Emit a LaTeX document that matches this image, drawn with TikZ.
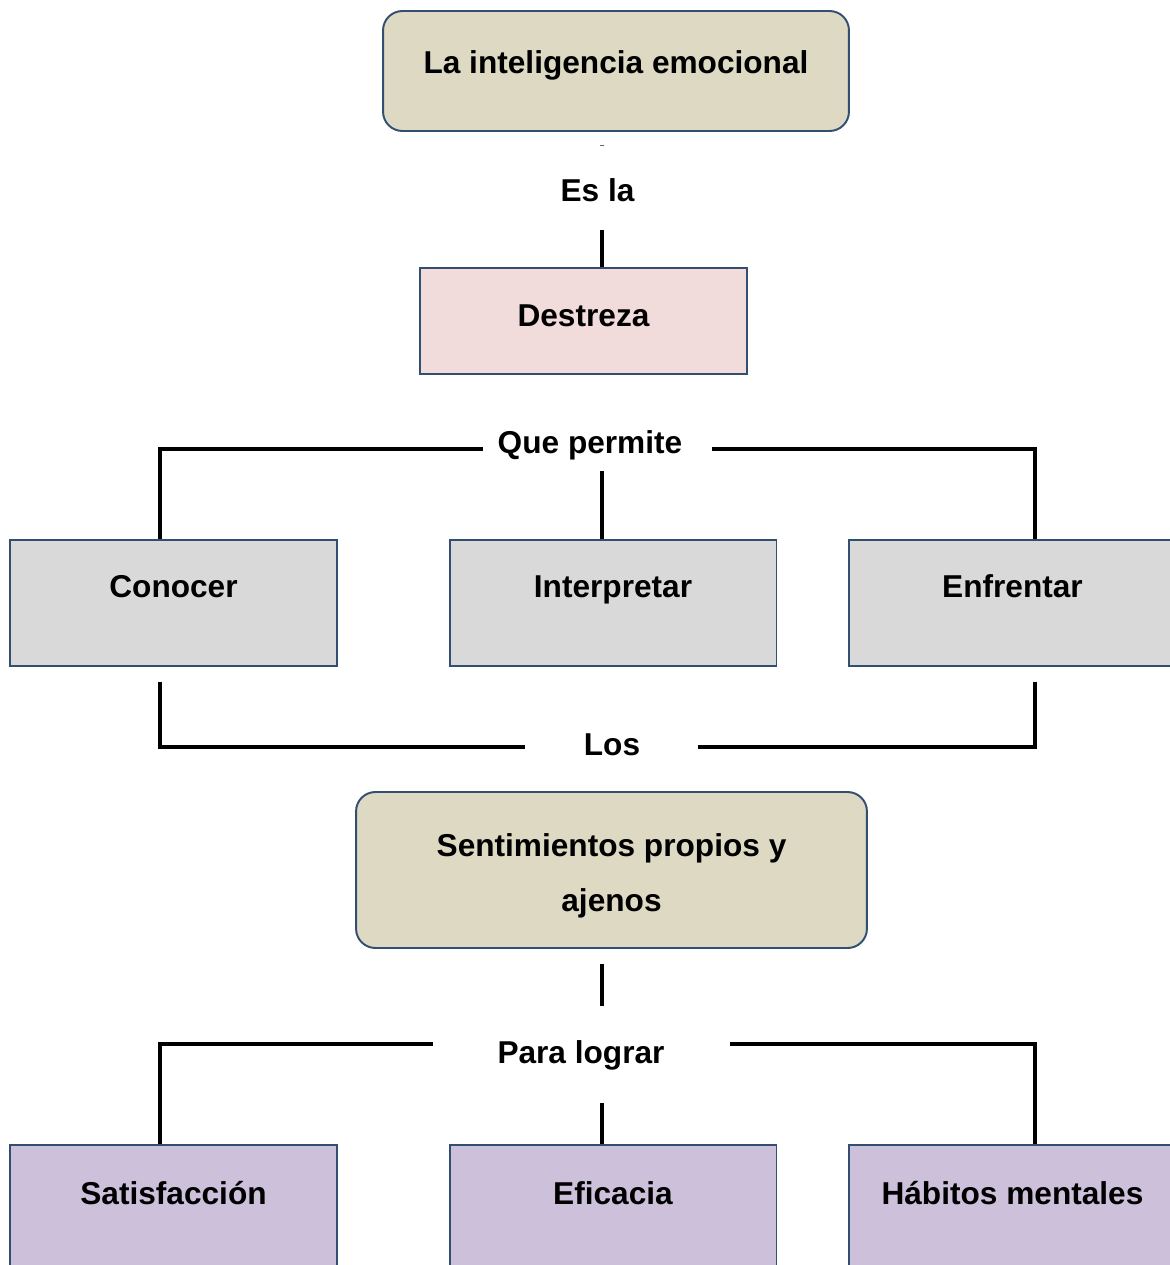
\documentclass[tikz,border=0pt]{standalone}
\usepackage{fontspec}
\setmainfont{Liberation Sans}
\usetikzlibrary{positioning,calc}

\definecolor{borde}{RGB}{50,78,112}
\definecolor{caqui}{RGB}{221,217,195}
\definecolor{rosa}{RGB}{242,220,219}
\definecolor{gris}{RGB}{217,217,217}
\definecolor{lila}{RGB}{204,192,218}

\tikzset{
	caja/.style={draw=borde, line width=1.1pt, inner sep=0pt, align=center,
		font=\bfseries\fontsize{18}{31}\selectfont},
	redonda/.style={caja, rounded corners=11pt},
	fila/.style={caja, minimum width=6.54cm, minimum height=2.52cm,
		text height=13pt, text depth=19.8pt},
	enlace/.style={font=\bfseries\fontsize{18}{22}\selectfont, anchor=base, inner sep=0pt},
	linea/.style={line width=1.9pt, black}
}

\begin{document}
\begin{tikzpicture}[x=0.02cm, y=-0.02cm]
		%%%%% START %%%%%
		\useasboundingbox (0,0) rectangle (1170,1265);
		
		\node[redonda, fill=caqui, minimum width=9.32cm, minimum height=2.4cm,
			text height=13pt, text depth=10.7pt] (inteligencia) at (616,71) {La inteligencia emocional};
		\draw[line width=0.3pt, black!60] (600,145) -- (604,145);
		
		\node[enlace] (esla) at (597.5,201.5) {Es la};
		\coordinate (esB) at (602,230);
		
		\node[caja, fill=rosa, minimum width=6.54cm, minimum height=2.12cm,
			text height=15pt, text depth=9.3pt] (destreza) at (583.5,321) {Destreza};
		\draw[linea] (esB) -- (esB |- destreza.north);
		
		% que permite
		\node[enlace] (permite) at (590,453.5) {Que permite};
		\coordinate (qL) at (483,449);
		\coordinate (qR) at (712,449);
		\coordinate (qM) at (602,471);
		
		\node[fila, fill=gris] (conocer) at (173.5,603) {Conocer};
		\node[fila, fill=gris] (interpretar) at (613,603) {Interpretar};
		\node[fila, fill=gris] (enfrentar) at (1012.5,603) {Enfrentar};
		
		\draw[linea] ([xshift=-0.27cm]conocer.north) |- (qL);
		\draw[linea] ([xshift=0.45cm]enfrentar.north) |- (qR);
		\draw[linea] (qM) -- (qM |- interpretar.north);
		
		% los
		\node[enlace] (los) at (612,755.5) {Los};
		\coordinate (lL) at (525,747);
		\coordinate (lR) at (698,747);
		\draw[linea] ($(conocer.south)+(-13.5,15)$) |- (lL);
		\draw[linea] ($(enfrentar.south)+(22.5,15)$) |- (lR);
		
		\node[redonda, fill=caqui, minimum width=10.22cm, minimum height=3.12cm] (sentimientos)
			at (611.5,870) {\rule{0pt}{19.8pt}Sentimientos propios y\\ajenos};
		
		% para lograr
		\node[enlace] (lograr) at (581,1063.5) {Para lograr};
		\coordinate (pTop) at (602,1006);
		\coordinate (pL) at (433,1044);
		\coordinate (pR) at (730,1044);
		\coordinate (pM) at (602,1103);
		\draw[linea] ($(sentimientos.south -| pTop)+(0,15)$) -- (pTop);
		
		\node[fila, fill=lila, text height=15.8pt] (satisfaccion) at (173.5,1208) {Satisfacción};
		\node[fila, fill=lila, text height=15.8pt] (eficacia) at (613,1208) {Eficacia};
		\node[fila, fill=lila, text height=15.8pt] (habitos) at (1012.5,1208) {Hábitos mentales};
		
		\draw[linea] ([xshift=-0.27cm]satisfaccion.north) |- (pL);
		\draw[linea] ([xshift=0.45cm]habitos.north) |- (pR);
		\draw[linea] (pM) -- (pM |- eficacia.north);
		%%%%% END %%%%%
\end{tikzpicture}
\end{document}
